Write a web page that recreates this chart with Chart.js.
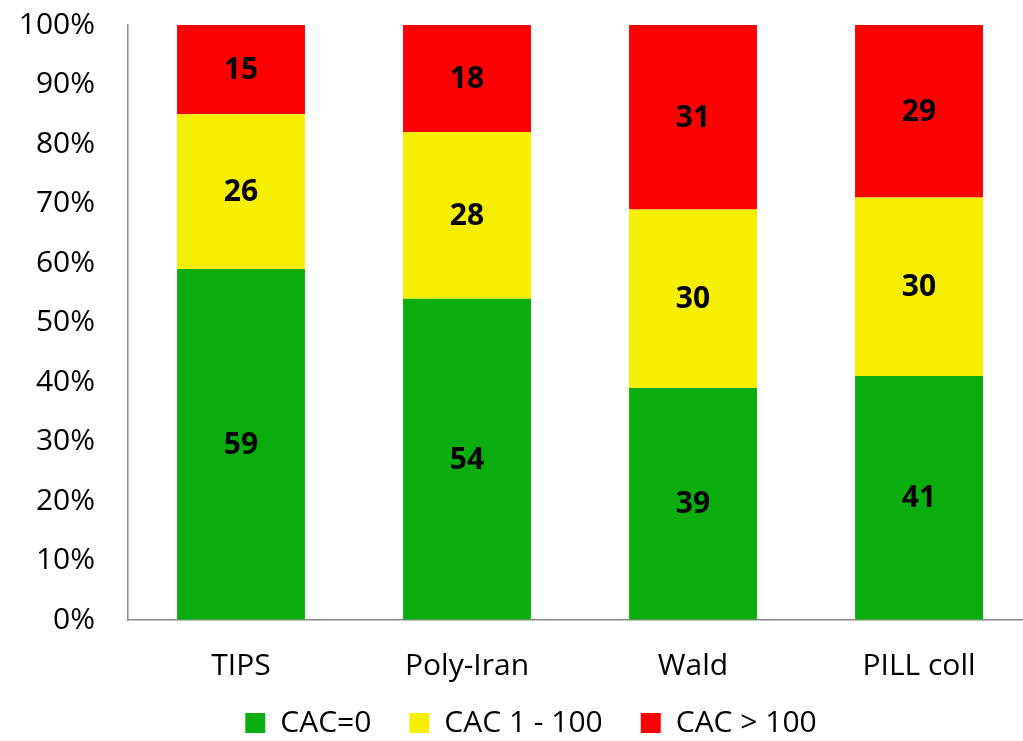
<!DOCTYPE html>
<html>
<head>
<meta charset="utf-8">
<title>CAC distribution by cohort</title>
<script src="https://cdn.jsdelivr.net/npm/chart.js@4/dist/chart.umd.min.js"></script>
<style>
  html, body { margin: 0; padding: 0; overflow: hidden; background: #ffffff; }
  canvas { display: block; }
</style>
</head>
<body>
<canvas id="chart" width="1032" height="762"></canvas>
<script>
// Cohorts and CAC category shares (%)
const studies = ['TIPS', 'Poly-Iran', 'Wald', 'PILL coll'];
const cacZero = [59, 54, 39, 41];
const cacLow = [26, 28, 30, 30];
const cacHigh = [15, 18, 31, 29];
const seriesNames = ['CAC=0', 'CAC 1 - 100', 'CAC > 100'];
const yTickValues = [0, 10, 20, 30, 40, 50, 60, 70, 80, 90, 100];

const FONT = '"Open Sans", "Liberation Sans", sans-serif';
const AXIS_GREY = '#8a8a8a';

// Writes each segment's value in the middle of its bar piece
const segmentLabels = {
  id: 'segmentLabels',
  afterDatasetsDraw(chart) {
    const ctx = chart.ctx;
    ctx.save();
    ctx.font = 'bold 30px ' + FONT;
    ctx.fillStyle = '#000000';
    ctx.textAlign = 'center';
    ctx.textBaseline = 'middle';
    chart.data.datasets.forEach((ds, i) => {
      const meta = chart.getDatasetMeta(i);
      meta.data.forEach((bar, j) => {
        const p = bar.getProps(['x', 'y', 'base'], true);
        ctx.fillText(String(ds.data[j]), p.x, (p.y + p.base) / 2 + 1);
      });
    });
    ctx.restore();
  }
};

// Nudges the legend row so it sits centred under the plotted bars, close to the axis labels
const legendOffset = {
  id: 'legendOffset',
  afterLayout(chart) {
    const lg = chart.legend;
    if (lg) {
      lg.left += 15;
      lg.right += 15;
      lg.top -= 14;
      lg.bottom -= 14;
    }
  }
};

new Chart(document.getElementById('chart'), {
  type: 'bar',
  data: {
    labels: studies,
    datasets: [
      { label: seriesNames[0], data: cacZero, backgroundColor: '#09ae0e' },
      { label: seriesNames[1], data: cacLow, backgroundColor: '#f6f000' },
      { label: seriesNames[2], data: cacHigh, backgroundColor: '#ff0000' }
    ]
  },
  options: {
    responsive: false,
    animation: false,
    categoryPercentage: 1,
    barPercentage: 0.566,
    layout: { padding: { left: 0, right: 0, top: 25, bottom: 0 } },
    plugins: {
      legend: {
        position: 'bottom',
        labels: {
          boxWidth: 20,
          boxHeight: 20,
          padding: 38,
          color: '#000000',
          font: { family: FONT, size: 30 }
        }
      },
      tooltip: { enabled: false }
    },
    scales: {
      x: {
        stacked: true,
        grid: { display: true, drawOnChartArea: false, drawTicks: false },
        border: { display: true, color: AXIS_GREY, width: 1.5 },
        ticks: { padding: 28, color: '#000000', font: { family: FONT, size: 30 } },
        afterFit(scale) { scale.height = 64; }
      },
      y: {
        stacked: true,
        min: 0,
        max: 100,
        afterBuildTicks(scale) { scale.ticks = yTickValues.map(v => ({ value: v })); },
        grid: {
          display: true,
          drawOnChartArea: false,
          drawTicks: true,
          tickLength: 30,
          tickColor: 'rgba(0,0,0,0)'
        },
        border: { display: true, color: AXIS_GREY, width: 1.5 },
        ticks: {
          padding: 3,
          color: '#000000',
          font: { family: FONT, size: 30 },
          callback: v => v + '%'
        },
        afterFit(scale) { scale.width = 128; }
      }
    }
  },
  plugins: [segmentLabels, legendOffset]
});
</script>
</body>
</html>
